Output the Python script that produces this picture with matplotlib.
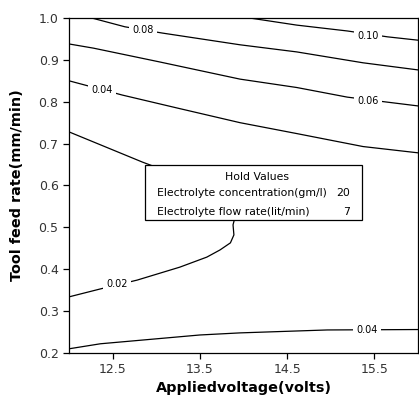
import matplotlib.pyplot as plt
from matplotlib.patches import Rectangle

# contour lines (voltage, feed rate)
c010_x = [14.07, 14.61, 15.19, 15.65, 16.0]
c010_y = [1.0, 0.983, 0.969, 0.955, 0.947]

c008_x = [12.26, 12.64, 13.07, 13.96, 14.61, 15.37, 16.0]
c008_y = [1.0, 0.979, 0.964, 0.936, 0.919, 0.893, 0.876]

c006_x = [12.0, 12.28, 13.04, 13.96, 14.61, 15.19, 15.65, 16.0]
c006_y = [0.938, 0.928, 0.895, 0.854, 0.834, 0.811, 0.799, 0.790]

c004a_x = [12.0, 12.18, 12.61, 13.24, 13.96, 14.61, 15.37, 16.0]
c004a_y = [0.850, 0.840, 0.816, 0.785, 0.750, 0.724, 0.693, 0.678]

c002_x = [12.0, 12.84, 13.39, 13.79, 13.91, 13.88, 13.89, 13.85, 13.73, 13.58,
          13.27, 12.78, 12.36, 12.0]
c002_y = [0.728, 0.656, 0.613, 0.565, 0.530, 0.506, 0.482, 0.463, 0.446, 0.429,
          0.405, 0.374, 0.353, 0.334]

c004b_x = [12.0, 12.36, 13.50, 13.96, 14.96, 16.0]
c004b_y = [0.210, 0.222, 0.243, 0.248, 0.255, 0.256]

contours = [(c010_x, c010_y), (c008_x, c008_y), (c006_x, c006_y),
            (c004a_x, c004a_y), (c002_x, c002_y), (c004b_x, c004b_y)]

label_text = ['0.10', '0.08', '0.06', '0.04', '0.02', '0.04']
label_x = [15.43, 12.85, 15.43, 12.38, 12.55, 15.42]
label_y = [0.957, 0.971, 0.802, 0.828, 0.365, 0.256]

hold_names = ['Electrolyte concentration(gm/l)', 'Electrolyte flow rate(lit/min)']
hold_values = ['20', '7']

fig = plt.figure(figsize=(4.19, 3.98), dpi=100)
ax = fig.add_axes([0.1647, 0.1131, 0.8329, 0.8417])

for xs, ys in contours:
    ax.plot(xs, ys, color='black', linewidth=0.9, zorder=2)

for t, x, y in zip(label_text, label_x, label_y):
    ax.text(x, y, t, fontsize=7, ha='center', va='center', zorder=3,
            bbox=dict(boxstyle='square,pad=0.35', facecolor='white', edgecolor='none'))

# hold values box
ax.add_patch(Rectangle((0.218, 0.397), 0.622, 0.164, transform=ax.transAxes,
                       facecolor='white', edgecolor='black', linewidth=0.9, zorder=4))
ax.text(0.54, 0.525, 'Hold Values', transform=ax.transAxes, fontsize=7.8,
        ha='center', va='center', zorder=5)
for i, (name, val) in enumerate(zip(hold_names, hold_values)):
    yy = 0.477 - i * 0.057
    ax.text(0.252, yy, name, transform=ax.transAxes, fontsize=7.8,
            ha='left', va='center', zorder=5)
    ax.text(0.805, yy, val, transform=ax.transAxes, fontsize=7.8,
            ha='right', va='center', zorder=5)

ax.set_xlim(12, 16)
ax.set_ylim(0.2, 1.0)
ax.set_xticks([12.5, 13.5, 14.5, 15.5])
ax.set_yticks([0.2, 0.3, 0.4, 0.5, 0.6, 0.7, 0.8, 0.9, 1.0])
ax.tick_params(direction='out', length=4, width=0.9, labelsize=9,
               labelcolor='#333333')
for s in ax.spines.values():
    s.set_linewidth(0.9)

ax.set_xlabel('Appliedvoltage(volts)', fontsize=10.4, fontweight='bold')
ax.set_ylabel('Tool feed rate(mm/min)', fontsize=10.4, fontweight='bold')
ax.xaxis.set_label_coords(0.5, -0.083)
ax.yaxis.set_label_coords(-0.13, 0.5)

fig.savefig('out.png', dpi=100)
